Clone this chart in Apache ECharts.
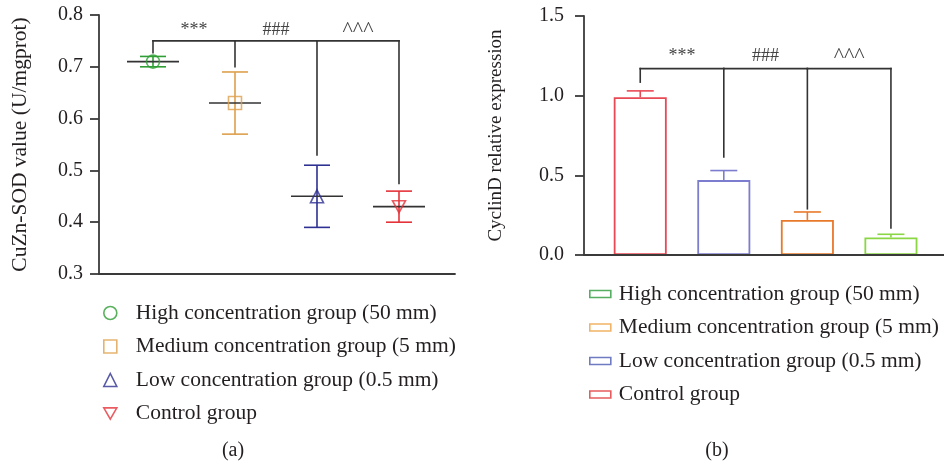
<!DOCTYPE html>
<html><head><meta charset="utf-8">
<script src="https://cdn.jsdelivr.net/npm/echarts@6/dist/echarts.min.js"></script>
<style>html,body{margin:0;padding:0;background:#fff}#c{width:944px;height:463px}</style>
</head><body><div id="c"></div>
<script>
// ---------- data ----------
const groupNames = [
  'High concentration group (50 mm)',
  'Medium concentration group (5 mm)',
  'Low concentration group (0.5 mm)',
  'Control group'
];
// Panel (a): CuZn-SOD, order High, Medium, Low, Control
const sodMean = [0.71, 0.63, 0.45, 0.43];
const sodLow  = [0.70, 0.57, 0.39, 0.40];
const sodHigh = [0.72, 0.69, 0.51, 0.46];
const sodBracketTop = 0.75;
const sodBracketEnds = [0.727, 0.70, 0.53, 0.475];
const sodSigLabelValue = 0.771;
// Panel (b): CyclinD, bars left to right: Control, Low, Medium, High
const cyclinGroupIndex = [3, 2, 1, 0];
const cyclinMean  = [0.99, 0.47, 0.22, 0.11];
const cyclinUpper = [1.03, 0.53, 0.27, 0.13];
const cyclinBracketTop = 1.17;
const cyclinBracketEnds = [1.085, 0.615, 0.29, 0.17];
const cyclinSigLabelValue = 1.25;
const sigLabels = ['***', '###', '^^^'];
const panelCaptions = ['(a)', '(b)'];

// ---------- styles ----------
const FONT = "'Liberation Serif', 'DejaVu Serif', serif";
const TXT = '#231f20';
const AX = '#3a3a3a';
const colorsA = ['#2f9e35', '#dea04c', '#2e3192', '#e5333a'];
const symbolsA = ['circle', 'rect', 'triangle', 'path://M0,0L10,0L5,8.7Z'];
const barColorsB = ['#8bd644', '#e8792a', '#7d7dcf', '#e84a55']; // by group index
const legendColorsB = ['#2a9a3a', '#eea040', '#4b5ab2', '#e03234'];
const sigFontSizes = [18, 18, 22];

function errA(params, api) {
  const x = api.value(0);
  const lo = api.coord([x, api.value(1)]);
  const hi = api.coord([x, api.value(2)]);
  const st = { stroke: colorsA[api.value(3)], lineWidth: 1.6 };
  const w = 13;
  return { type: 'group', children: [
    { type: 'line', shape: { x1: lo[0], y1: lo[1], x2: hi[0], y2: hi[1] }, style: st },
    { type: 'line', shape: { x1: lo[0] - w, y1: lo[1], x2: lo[0] + w, y2: lo[1] }, style: st },
    { type: 'line', shape: { x1: hi[0] - w, y1: hi[1], x2: hi[0] + w, y2: hi[1] }, style: st }
  ]};
}
function meanA(params, api) {
  const p = api.coord([api.value(0), api.value(1)]);
  return { type: 'line', shape: { x1: p[0] - 26, y1: p[1], x2: p[0] + 26, y2: p[1] },
    style: { stroke: '#333', lineWidth: 1.6 } };
}
function errB(params, api) {
  const x = api.value(0);
  const lo = api.coord([x, api.value(1)]);
  const hi = api.coord([x, api.value(2)]);
  const st = { stroke: barColorsB[api.value(3)], lineWidth: 1.6 };
  const w = 13.5;
  return { type: 'group', children: [
    { type: 'line', shape: { x1: lo[0], y1: lo[1], x2: hi[0], y2: hi[1] }, style: st },
    { type: 'line', shape: { x1: hi[0] - w, y1: hi[1], x2: hi[0] + w, y2: hi[1] }, style: st }
  ]};
}
function bracketRender(n) {
  return function (params, api) {
    const i = api.value(0);
    const top = api.coord([i, api.value(2)]);
    const end = api.coord([i, api.value(1)]);
    const st = { stroke: '#333', lineWidth: 1.6, lineCap: 'square' };
    const ch = [{ type: 'line', shape: { x1: top[0], y1: top[1], x2: end[0], y2: end[1] }, style: st }];
    if (i < n - 1) {
      const nx = api.coord([i + 1, api.value(2)]);
      ch.push({ type: 'line', shape: { x1: top[0], y1: top[1], x2: nx[0], y2: nx[1] }, style: st });
    }
    return { type: 'group', children: ch };
  };
}
function sigRender(params, api) {
  const p = api.coord([api.value(0), api.value(1)]);
  const k = api.value(2);
  return { type: 'text', x: p[0], y: p[1],
    style: { text: sigLabels[k], fill: '#444', fontSize: sigFontSizes[k], fontFamily: FONT,
      align: 'center', verticalAlign: 'middle', textAlign: 'center', textVerticalAlign: 'middle' } };
}

const series = [];
// Panel (a) error bars
series.push({ type: 'custom', xAxisIndex: 0, yAxisIndex: 0, z: 2, silent: true,
  data: sodMean.map((m, i) => [i, sodLow[i], sodHigh[i], i]), renderItem: errA });
// Panel (a) mean lines
series.push({ type: 'custom', xAxisIndex: 0, yAxisIndex: 0, z: 3, silent: true,
  data: sodMean.map((m, i) => [i, m]), renderItem: meanA });
// Panel (a) markers (one series per group)
groupNames.forEach((name, i) => {
  series.push({ type: 'scatter', name: name, xAxisIndex: 0, yAxisIndex: 0, z: 4, silent: true,
    symbol: symbolsA[i], symbolSize: i === 3 ? [13, 12] : 13,
    itemStyle: { color: 'rgba(255,255,255,0)', borderColor: colorsA[i], borderWidth: 1.6 },
    data: [[i, sodMean[i]]] });
});
// Panel (a) brackets and labels
series.push({ type: 'custom', xAxisIndex: 0, yAxisIndex: 0, z: 3, silent: true,
  data: sodBracketEnds.map((e, i) => [i, e, sodBracketTop]), renderItem: bracketRender(sodBracketEnds.length) });
series.push({ type: 'custom', xAxisIndex: 0, yAxisIndex: 0, z: 3, silent: true,
  data: sigLabels.map((s, i) => [i + 0.5, sodSigLabelValue, i]), renderItem: sigRender });

// Panel (b) bars
cyclinGroupIndex.forEach((g, k) => {
  series.push({ type: 'bar', name: groupNames[g], xAxisIndex: 1, yAxisIndex: 1, z: 2, silent: true,
    barWidth: 53, barGap: '-100%',
    itemStyle: { color: '#ffffff', borderColor: barColorsB[g], borderWidth: 1.8 },
    data: [[k, cyclinMean[k]]] });
});
series.push({ type: 'custom', xAxisIndex: 1, yAxisIndex: 1, z: 3, silent: true,
  data: cyclinMean.map((m, k) => [k, m, cyclinUpper[k], cyclinGroupIndex[k]]), renderItem: errB });
series.push({ type: 'custom', xAxisIndex: 1, yAxisIndex: 1, z: 3, silent: true,
  data: cyclinBracketEnds.map((e, i) => [i, e, cyclinBracketTop]), renderItem: bracketRender(cyclinBracketEnds.length) });
series.push({ type: 'custom', xAxisIndex: 1, yAxisIndex: 1, z: 3, silent: true,
  data: sigLabels.map((s, i) => [i + 0.5, cyclinSigLabelValue, i]), renderItem: sigRender });

const axisLine = { show: true, onZero: false, lineStyle: { color: AX, width: 1.8 } };
const option = {
  animation: false,
  backgroundColor: '#ffffff',
  textStyle: { fontFamily: FONT, color: TXT },
  grid: [
    { left: 99, top: 15, width: 356, height: 259 },
    { left: 584, top: 16, width: 362, height: 239 }
  ],
  xAxis: [
    { type: 'value', gridIndex: 0, min: -0.6585, max: 3.683, splitLine: { show: false },
      axisLine: axisLine, axisTick: { show: false }, axisLabel: { show: false }, z: 5 },
    { type: 'value', gridIndex: 1, min: -0.673, max: 3.635, splitLine: { show: false },
      axisLine: axisLine, axisTick: { show: false }, axisLabel: { show: false }, z: 5 }
  ],
  yAxis: [
    { type: 'value', gridIndex: 0, min: 0.3, max: 0.8, interval: 0.1,
      name: 'CuZn-SOD value (U/mgprot)', nameLocation: 'middle', nameGap: 68, nameRotate: 90,
      nameTextStyle: { fontSize: 21.5, color: TXT, fontFamily: FONT },
      axisLine: axisLine, splitLine: { show: false },
      axisTick: { show: true, inside: false, length: 9, lineStyle: { color: AX, width: 1.8 } },
      axisLabel: { margin: 16, fontSize: 20, color: TXT, fontFamily: FONT, formatter: v => v.toFixed(1) }, z: 5 },
    { type: 'value', gridIndex: 1, min: 0, max: 1.5, interval: 0.5,
      name: 'CyclinD relative expression', nameLocation: 'middle', nameGap: 78, nameRotate: 90,
      nameTextStyle: { fontSize: 19, color: TXT, fontFamily: FONT },
      axisLine: axisLine, splitLine: { show: false },
      axisTick: { show: true, inside: false, length: 9, lineStyle: { color: AX, width: 1.8 } },
      axisLabel: { margin: 20, fontSize: 20, color: TXT, fontFamily: FONT, formatter: v => v.toFixed(1) }, z: 5 }
  ],
  legend: [
    { orient: 'vertical', left: 98, top: 297, itemWidth: 13, itemHeight: 13, itemGap: 11.5,
      selectedMode: false,
      textStyle: { fontSize: 21.5, color: TXT, fontFamily: FONT, lineHeight: 22, padding: [0, 0, 0, 14] },
      data: groupNames.map((n, i) => ({ name: n, icon: symbolsA[i],
        itemStyle: { color: 'rgba(255,255,255,0)', borderColor: colorsA[i], borderWidth: 1.6 } })) },
    { orient: 'vertical', left: 584, top: 278, itemWidth: 21, itemHeight: 7, itemGap: 11.5,
      selectedMode: false,
      textStyle: { fontSize: 21.5, color: TXT, fontFamily: FONT, lineHeight: 22, padding: [0, 0, 0, 3] },
      data: groupNames.map((n, i) => ({ name: n, icon: 'rect',
        itemStyle: { color: '#ffffff', borderColor: legendColorsB[i], borderWidth: 1.6 } })) }
  ],
  graphic: [
    { type: 'text', x: 233, y: 451, style: { text: panelCaptions[0], fill: TXT, fontSize: 20, fontFamily: FONT,
      align: 'center', verticalAlign: 'middle', textAlign: 'center', textVerticalAlign: 'middle' } },
    { type: 'text', x: 717, y: 451, style: { text: panelCaptions[1], fill: TXT, fontSize: 20, fontFamily: FONT,
      align: 'center', verticalAlign: 'middle', textAlign: 'center', textVerticalAlign: 'middle' } }
  ],
  series: series
};
const chart = echarts.init(document.getElementById('c'), null, { renderer: 'canvas' });
chart.setOption(option);
</script></body></html>
